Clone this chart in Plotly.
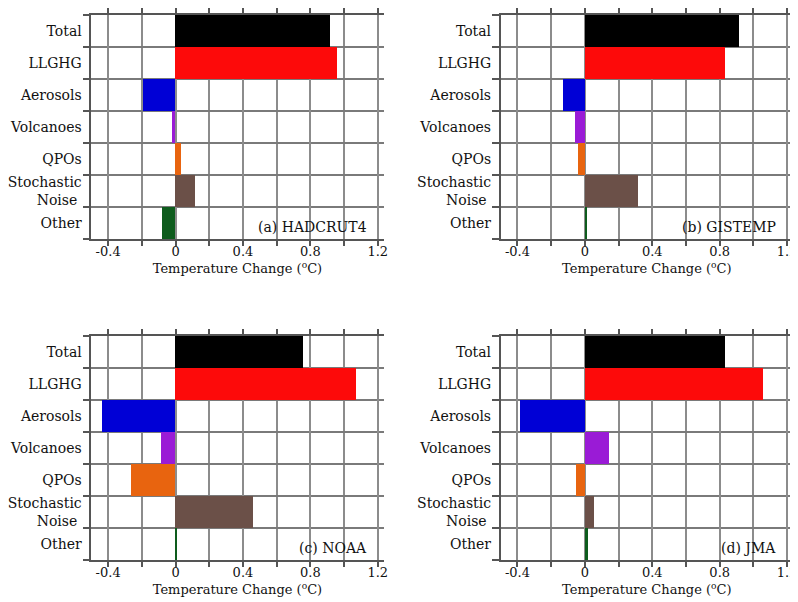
import plotly.graph_objects as go

categories = ["Total", "LLGHG", "Aerosols", "Volcanoes", "QPOs", "Stochastic Noise", "Other"]
category_labels = ["Total", "LLGHG", "Aerosols", "Volcanoes", "QPOs", "Stochastic<br>Noise\u00a0", "Other"]
bar_colors = ["#000000", "#fd0a0a", "#0000d6", "#9a1bd6", "#e8640f", "#6b5048", "#0e5c1d"]

panel_titles = ["(a) HADCRUT4", "(b) GISTEMP", "(c) NOAA", "(d) JMA"]
hadcrut4 = [0.92, 0.96, -0.19, -0.02, 0.035, 0.12, -0.077]
gistemp = [0.91, 0.83, -0.13, -0.06, -0.045, 0.31, 0.005]
noaa = [0.76, 1.07, -0.435, -0.085, -0.262, 0.463, 0.008]
jma = [0.83, 1.055, -0.387, 0.142, -0.055, 0.053, 0.014]
series = [hadcrut4, gistemp, noaa, jma]

x_tickvals = [-0.4, 0.0, 0.4, 0.8, 1.2]
x_ticktext = ["-0.4", "0", "0.4", "0.8", "1.2"]
x_title = "Temperature Change (<sup>o</sup>C)"

FONT = "DejaVu Serif"
# the page body adds an 8px margin, so the figure is drawn 8px smaller and shifted
OFF = 8
W, H = 798 - OFF, 602 - OFF

# pixel boxes for panels in the screenshot (left, right, top, bottom)
boxes = [(89, 384, 15, 239), (502, 797, 15, 239), (89, 384, 336, 560), (502, 797, 336, 560)]

fig = go.Figure()
ypos = list(range(len(categories)))

for i, (vals, title, box) in enumerate(zip(series, panel_titles, boxes)):
    n = i + 1
    xa = "x" if n == 1 else f"x{n}"
    ya = "y" if n == 1 else f"y{n}"
    fig.add_trace(go.Bar(
        x=vals, y=ypos, orientation="h", width=1.0,
        marker=dict(color=bar_colors, line=dict(width=0)),
        xaxis=xa, yaxis=ya, showlegend=False,
        hovertext=categories,
    ))
    l, r, t, b = [v - OFF for v in box]
    xkey = "xaxis" if n == 1 else f"xaxis{n}"
    ykey = "yaxis" if n == 1 else f"yaxis{n}"
    fig.layout[xkey] = dict(
        domain=[l / W, min(r / W, 1.0)], anchor=ya, range=[-0.5, 1.235],
        tickvals=x_tickvals, ticktext=x_ticktext,
        showgrid=True, gridcolor="#8c8c8c", gridwidth=1.5,
        zeroline=False, showline=True, linecolor="#555555", linewidth=1.5,
        mirror="ticks", ticks="outside", ticklen=5, tickcolor="#555555", tickwidth=1.5,
        minor=dict(tick0=0, dtick=0.2, showgrid=True, gridcolor="#8c8c8c", gridwidth=1.5,
                   ticks="outside", ticklen=5, tickcolor="#555555", tickwidth=1.5),
        tickfont=dict(family=FONT, size=13, color="#111111"),
        ticklabelstandoff=-5,
        title=dict(text=x_title, font=dict(family=FONT, size=13, color="#111111"), standoff=6),
        fixedrange=True,
    )
    fig.layout[ykey] = dict(
        domain=[(H - b) / H, (H - t) / H], anchor=xa,
        range=[len(categories) - 0.5, -0.5],
        tickvals=ypos, ticktext=category_labels, ticks="", showgrid=False,
        zeroline=False, showline=True, linecolor="#555555", linewidth=1.5,
        tickfont=dict(family=FONT, size=14, color="#111111"),
        ticklabelstandoff=5,
        minor=dict(tick0=0.5, dtick=1, showgrid=True, gridcolor="#7a7a7a", gridwidth=1.5,
                   ticks="outside", ticklen=7, tickcolor="#555555", tickwidth=1.5),
        fixedrange=True,
    )
    fig.add_annotation(
        text=title, xref=f"{xa} domain", yref=f"{ya} domain",
        x=0.95, y=0.01, xanchor="right", yanchor="bottom", showarrow=False,
        font=dict(family=FONT, size=14, color="#111111"),
    )

fig.update_layout(
    width=W, height=H, margin=dict(l=0, r=0, t=0, b=0),
    paper_bgcolor="white", plot_bgcolor="white", bargap=0,
)

fig.write_html("out.html")
